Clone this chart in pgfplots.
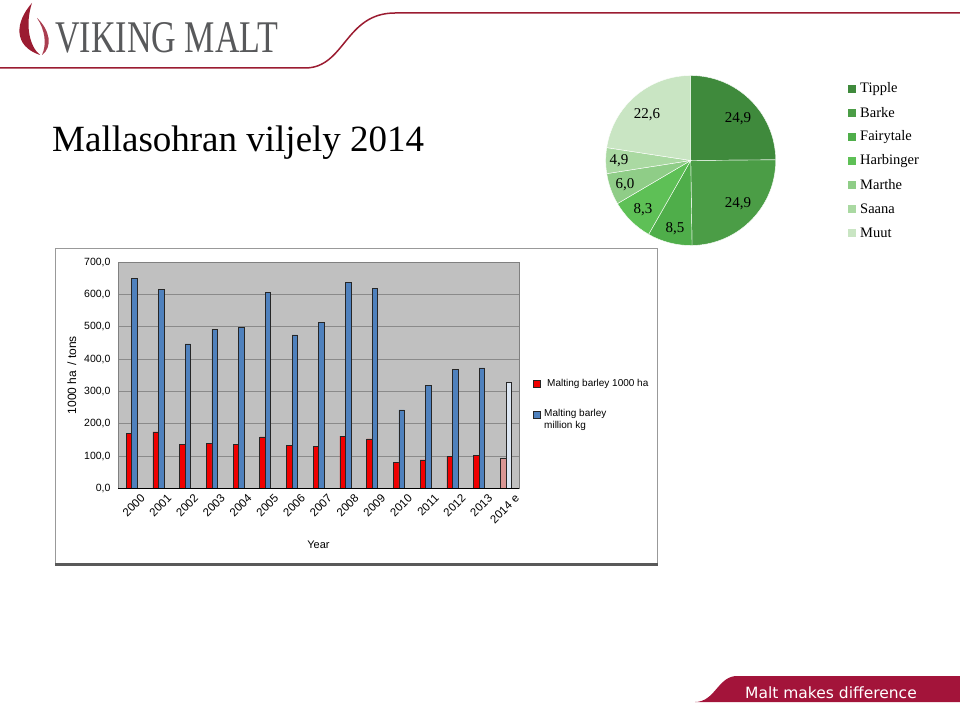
\documentclass[border=0pt]{standalone}
\usepackage{pgfplots}
\usepackage{pgfplotstable}
\pgfplotsset{compat=1.18}
\usepackage{fontspec}
\usepackage{graphicx}
\setmainfont{Liberation Sans}
\newfontfamily\tnr{Liberation Serif}
\newfontfamily\dvs{DejaVu Sans}

\definecolor{vmred}{HTML}{9B1C31}
\definecolor{bandred}{HTML}{A3143A}
\definecolor{logogray}{HTML}{58595B}
\definecolor{barred}{HTML}{F00000}
\definecolor{barblue}{HTML}{4F81BD}
\definecolor{estred}{HTML}{D99694}
\definecolor{estblue}{HTML}{DCE6F2}
\definecolor{plotbg}{HTML}{C0C0C0}
\definecolor{gridc}{HTML}{8A8A8A}
\definecolor{pA}{HTML}{3F8A3C}
\definecolor{pB}{HTML}{4B9D46}
\definecolor{pC}{HTML}{4FAE4A}
\definecolor{pD}{HTML}{5EC056}
\definecolor{pE}{HTML}{8FCD87}
\definecolor{pF}{HTML}{AAD9A2}
\definecolor{pG}{HTML}{C9E5C3}

\pgfplotstableread{
x red blue
0 170 650
1 175 616
2 137 447
3 139 492
4 137 498
5 159 608
6 133 475
7 131 515
8 162 639
9 153 619
10 80 243
11 88 319
12 99 368
13 103 373
}\histdata
\pgfplotstableread{
x red blue
14 94 328
}\estdata

% pie slice: start (cumulative %), value (%), colour
\newcommand{\pieslice}[3]{%
  \fill[#3, draw=white, line width=0.4pt] (axis cs:0,0) -- ++({90-3.5964*#1}:85pt)
    arc[start angle={90-3.5964*#1}, end angle={90-3.5964*(#1+#2)}, radius=85pt] -- cycle;}

\begin{document}
\begin{tikzpicture}[x=1pt,y=1pt]
\path[use as bounding box] (0,0) rectangle (960,702);

% ---- header: logo and line
\fill[vmred] (32,699) .. controls (15,680) and (13,656) .. (40,647)
  .. controls (29,656) and (25,678) .. (32,699) -- cycle;
\fill[vmred!85] (37,684) .. controls (50,672) and (53,655) .. (42,647)
  .. controls (47,658) and (45,672) .. (37,684) -- cycle;
\node[anchor=base west, inner sep=0pt, text=logogray] at (55,649)
  {\resizebox{223pt}{30pt}{\tnr VIKING MALT}};
\draw[vmred, line width=1.5pt] (0,634) -- (305,634)
  .. controls (345,634) and (345,689) .. (395,689) -- (960,689);

% ---- title
\node[anchor=base west, inner sep=0pt] at (52,550)
  {\fontsize{37}{40}\selectfont\tnr Mallasohran viljely 2014};

% ---- pie chart
\begin{axis}[at={(605.7pt,456.5pt)}, anchor=south west, scale only axis,
  width=170pt, height=170pt, hide axis,
  xmin=-1, xmax=1, ymin=-1, ymax=1]
  \pieslice{0}{24.9}{pA}
  \pieslice{24.9}{24.9}{pB}
  \pieslice{49.8}{8.5}{pC}
  \pieslice{58.3}{8.3}{pD}
  \pieslice{66.6}{6.0}{pE}
  \pieslice{72.6}{4.9}{pF}
  \pieslice{77.5}{22.6}{pG}
\end{axis}
\begin{scope}[every node/.style={inner sep=0pt, font=\fontsize{15}{17}\selectfont\tnr}]
  \node at (738,583) {24,9};
  \node at (738,498) {24,9};
  \node at (647,587) {22,6};
  \node at (619,541) {4,9};
  \node at (625,517) {6,0};
  \node at (643,492) {8,3};
  \node at (675,473) {8,5};
\end{scope}
% pie legend
\begin{scope}[every node/.style={inner sep=0pt, anchor=west, font=\fontsize{14.5}{17}\selectfont\tnr}]
  \foreach \c/\t [count=\i from 0] in {pA/Tipple,pB/Barke,pC/Fairytale,pD/Harbinger,pE/Marthe,pF/Saana,pG/Muut}{
    \fill[\c] (848,{613-24*\i-4}) rectangle (856,{613-24*\i+4});
    \node at (860,{613-24*\i}) {\t};
  }
\end{scope}

% ---- bar chart frame
\draw[gray!80, line width=1pt] (55,137) rectangle (657,453);
\draw[gray!70!black, line width=2.5pt] (55,137.5) -- (657.5,137.5);

\begin{axis}[at={(118pt,213.7pt)}, anchor=south west, scale only axis,
  width=401pt, height=226pt,
  xmin=-0.5, xmax=14.5, ymin=0, ymax=700,
  ybar, bar width=5.5pt,
  axis background/.style={fill=plotbg},
  axis line style={gray},
  ymajorgrids, grid style={gridc, line width=0.8pt},
  major tick length=0pt,
  xtick={0,...,14},
  xticklabels={2000,2001,2002,2003,2004,2005,2006,2007,2008,2009,2010,2011,2012,2013,2014 e},
  ytick={0,100,...,700},
  yticklabel={\pgfmathprintnumber[fixed,fixed zerofill,precision=1,use comma]{\tick}},
  /pgf/number format/assume math mode=true,
  yticklabel style={font=\fontsize{10.5}{12}\selectfont, xshift=-4pt},
  xticklabel style={font=\fontsize{11.5}{13}\selectfont, rotate=45, anchor=north east, inner sep=0.5pt, xshift=3pt, yshift=-9pt},
  xlabel={Year}, ylabel={1000 ha \,/ tons},
  every axis x label/.style={at={(axis description cs:0.5,-0.252)}, anchor=center, font=\fontsize{11}{13}\selectfont},
  every axis y label/.style={at={(axis description cs:-0.115,0.5)}, rotate=90, anchor=center, font=\fontsize{12}{14}\selectfont},
  clip=false]
  \addplot[fill=barred, draw=black!85, line width=0.6pt, bar shift=-2.5pt] table[x=x,y=red] {\histdata};
  \addplot[fill=barblue, draw=black!85, line width=0.6pt, bar shift=3pt] table[x=x,y=blue] {\histdata};
  \addplot[fill=estred, draw=black!85, line width=0.6pt, bar shift=-2.5pt] table[x=x,y=red] {\estdata};
  \addplot[fill=estblue, draw=black!85, line width=0.6pt, bar shift=3pt] table[x=x,y=blue] {\estdata};
  \draw[black, line width=1pt] (rel axis cs:0,0) -- (rel axis cs:1,0);
\end{axis}
% bar legend
\fill[barred, draw=black!85, line width=0.5pt] (533.5,314.5) rectangle (540.5,321.5);
\node[anchor=west, inner sep=0pt, font=\fontsize{10}{12}\selectfont] at (547,318) {Malting barley 1000 ha};
\fill[barblue, draw=black!85, line width=0.5pt] (533.5,283.5) rectangle (540.5,290.5);
\node[anchor=north west, inner sep=0pt, align=left, font=\fontsize{10}{12}\selectfont] at (544,293) {Malting barley\\million kg};

% ---- footer band
\fill[bandred] (695,0) .. controls (715,0) and (718,26) .. (737,26) -- (960,26) -- (960,0) -- cycle;
\node[anchor=base west, inner sep=0pt, text=white] at (745,4)
  {\fontsize{15.5}{18}\selectfont\dvs Malt makes difference};
\end{tikzpicture}
\end{document}
